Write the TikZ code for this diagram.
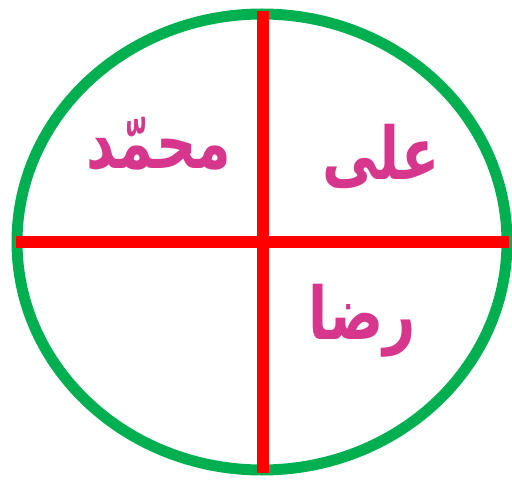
\documentclass[tikz,border=0pt]{standalone}
\usepackage{fontspec}
\newfontfamily\arabicfont[Script=Arabic]{DejaVu Sans}
\TeXXeTstate=1
\usepackage{tikz}
\definecolor{ringgreen}{RGB}{0,176,80}
\definecolor{namepink}{RGB}{214,54,140}
\tikzset{
  namelabel/.style={text=namepink,font=\arabicfont\bfseries\fontsize{56}{66}\selectfont,
    inner sep=0pt,yscale=1.3,transform shape},
  cross/.style={draw=red,line width=12pt}
}

\begin{document}
\begin{tikzpicture}[x=1pt,y=1pt]

      \useasboundingbox (0,0) rectangle (512,480);
      \clip (0,0) rectangle (512,480);

      \draw [ringgreen,line width=11pt] (262,238) ellipse (245 and 228);

      \coordinate (top) at (263,469);
      \coordinate (bottom) at (263,7);
      \coordinate (left) at (16,238);
      \coordinate (right) at (509,238);

      \draw [cross] (left) -- (right);
      \draw [cross] (top) -- (bottom);

      \node [namelabel] (ali) at (381,324) {\beginR علی\endR};
      \node [namelabel] (mohammad) at (159,336) {\beginR محمّد\endR};
      \node [namelabel] (reza) at (362,159) {\beginR رضا\endR};

\end{tikzpicture}
\end{document}
